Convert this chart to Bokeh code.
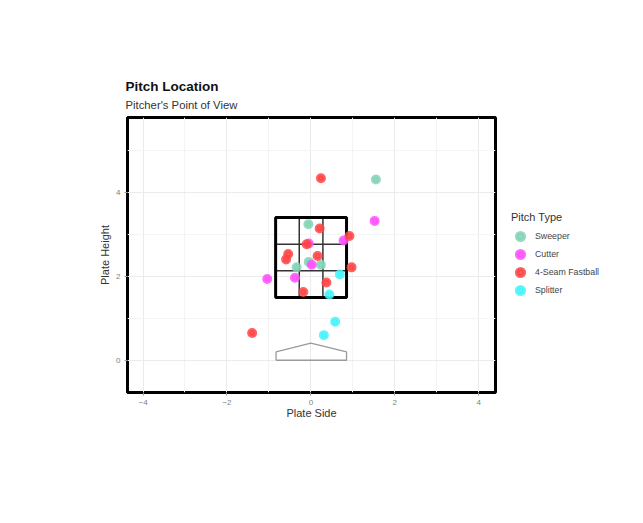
from bokeh.plotting import figure
from bokeh.models import (ColumnDataSource, FixedTicker, Legend, LegendItem, Title)
from bokeh.embed import file_html
from bokeh.resources import INLINE

# ---- data ----
pitch_types = ["Sweeper", "Cutter", "4-Seam Fastball", "Splitter"]
type_colors = ["#84d3b6", "#ff50ff", "#ff4545", "#45f3fb"]

sweeper_x = [1.55, -0.06, -0.05, 0.24, -0.34]
sweeper_y = [4.32, 3.25, 2.35, 2.28, 2.22]
cutter_x = [1.52, 0.78, -0.05, 0.02, -1.04, -0.38]
cutter_y = [3.33, 2.86, 2.79, 2.28, 1.94, 1.97]
fastball_x = [0.24, 0.21, 0.92, -0.10, -0.54, -0.59, 0.16, 0.97, 0.37, -0.18, -1.40]
fastball_y = [4.35, 3.15, 2.97, 2.77, 2.54, 2.41, 2.49, 2.22, 1.86, 1.63, 0.65]
splitter_x = [0.69, 0.44, 0.58, 0.31]
splitter_y = [2.05, 1.57, 0.92, 0.60]

zone_left, zone_right = -0.84, 0.85
zone_bottom, zone_top = 1.5, 3.41
plate_x = [-0.83, -0.83, 0.0, 0.85, 0.85, -0.83]
plate_y = [0.0, 0.2, 0.41, 0.2, 0.0, 0.0]

x_major = [-4, -2, 0, 2, 4]
x_minor = [-3, -1, 1, 3]
y_major = [0, 2, 4]
y_minor = [1, 3, 5]

FONT = "Liberation Sans"

p = figure(frame_width=368, frame_height=275, output_backend="svg",
           toolbar_location=None,
           x_range=(-4.37, 4.40), y_range=(-0.77, 5.80),
           min_border_left=127, min_border_right=140,
           min_border_top=117, min_border_bottom=123)
p.background_fill_color = "white"
p.border_fill_color = "white"
p.outline_line_color = "black"
p.outline_line_width = 3

# titles
sub = Title(text="Pitcher's Point of View", text_font=FONT, text_font_size="11.3px",
            text_font_style="normal", text_color="#333333", align="left",
            offset=-2, standoff=13)
main = Title(text="Pitch Location", text_font=FONT, text_font_size="13.5px",
             text_font_style="bold", text_color="#111111", align="left",
             offset=-2, standoff=-7)
p.title.visible = False
p.add_layout(sub, "above")
p.add_layout(main, "above")

# axes
for ax in (p.xaxis[0], p.yaxis[0]):
    ax.axis_line_color = None
    ax.major_tick_in = 0
    ax.major_tick_out = 3
    ax.major_tick_line_color = "#999999"
    ax.minor_tick_line_color = None
    ax.major_label_text_font = FONT
    ax.major_label_text_font_size = "8px"
    ax.major_label_text_color = "#7f7f7f"
    ax.major_label_standoff = 3
    ax.axis_label_text_font = FONT
    ax.axis_label_text_font_size = "11px"
    ax.axis_label_text_font_style = "normal"
    ax.axis_label_text_color = "#333333"
    ax.axis_label_standoff = 2
p.xaxis[0].axis_label_standoff = -1

p.xaxis.ticker = FixedTicker(ticks=x_major, minor_ticks=x_minor)
p.yaxis.ticker = FixedTicker(ticks=y_major, minor_ticks=y_minor)
p.xaxis.axis_label = "Plate Side"
p.yaxis.axis_label = "Plate Height"

p.grid.grid_line_color = "#ebebeb"
p.grid.grid_line_width = 1
p.grid.minor_grid_line_color = "#f4f4f4"
p.grid.minor_grid_line_width = 1

# home plate
p.line(plate_x, plate_y, line_color="#9a9a9a", line_width=1.3)

# strike zone inner lines
w = (zone_right - zone_left) / 3.0
h = (zone_top - zone_bottom) / 3.0
p.segment(x0=[zone_left + w, zone_left + 2 * w, zone_left, zone_left],
          y0=[zone_bottom, zone_bottom, zone_bottom + h, zone_bottom + 2 * h],
          x1=[zone_left + w, zone_left + 2 * w, zone_right, zone_right],
          y1=[zone_top, zone_top, zone_bottom + h, zone_bottom + 2 * h],
          line_color="#333333", line_width=1.5)
p.quad(left=[zone_left], right=[zone_right], bottom=[zone_bottom], top=[zone_top],
       fill_color=None, line_color="black", line_width=3)

series = [(sweeper_x, sweeper_y), (cutter_x, cutter_y),
          (fastball_x, fastball_y), (splitter_x, splitter_y)]
items = []
for name, color, (xs, ys) in zip(pitch_types, type_colors, series):
    src = ColumnDataSource(dict(x=xs, y=ys))
    r = p.scatter("x", "y", source=src, size=6, fill_color=color, line_color=color,
                  line_width=4, fill_alpha=0.85, line_alpha=0.85)
    items.append(LegendItem(label=name, renderers=[r]))

legend = Legend(items=items, location="center_left", title="Pitch Type",
                title_text_font=FONT, title_text_font_size="11px",
                title_text_font_style="normal", title_text_color="#333333",
                title_standoff=4,
                label_text_font=FONT, label_text_font_size="8.8px",
                label_text_color="#444444",
                glyph_width=18, glyph_height=18, label_height=15, spacing=0,
                label_standoff=6, padding=0, margin=16,
                border_line_color=None, background_fill_alpha=0)
p.add_layout(legend, "right")

open("out.html", "w").write(file_html(p, INLINE))
